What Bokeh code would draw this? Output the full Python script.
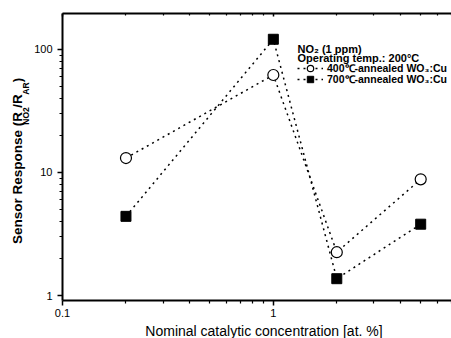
import math
from bokeh.plotting import figure
from bokeh.layouts import row, column
from bokeh.models import (ColumnDataSource, LogAxis, FixedTicker, Label, Legend, LegendItem)
from bokeh.core.properties import value
from bokeh.embed import file_html
from bokeh.resources import INLINE

# ---- data ----
conc = [0.2, 1, 2, 5]
resp_400 = [13.1, 62, 2.25, 8.8]
resp_700 = [4.4, 121, 1.37, 3.8]
label_400 = "400\u2103-annealed WO\u2083:Cu"
label_700 = "700\u2103-annealed WO\u2083:Cu"
x_major = [0.1, 1]
x_minor = [0.2, 0.3, 0.4, 0.5, 0.6, 0.7, 0.8, 0.9, 2, 3, 4, 5, 6, 7]
y_major = [1, 10, 100]
y_minor = [2, 3, 4, 5, 6, 7, 8, 9, 20, 30, 40, 50, 60, 70, 80, 90]
x_title = "Nominal catalytic concentration [at. %]"

FONT = "Liberation Sans"
LEFT_W = 30
BOTTOM_H = 18
MID = 0.3465   # distance of the text middle above the baseline, in em

p = figure(width=451 - LEFT_W, height=338 - BOTTOM_H, x_axis_type="log", y_axis_type="log",
           x_range=(0.1, 7), y_range=(0.911, 196), title=None,
           min_border_left=62 - LEFT_W, min_border_right=0, min_border_top=13,
           min_border_bottom=38 - BOTTOM_H,
           toolbar_location=None, output_backend="svg")
p.xgrid.visible = False
p.ygrid.visible = False
p.outline_line_color = None

def style_axis(ax, label_size="11px"):
    ax.axis_line_color = "black"
    ax.axis_line_width = 2
    ax.major_tick_line_color = "black"
    ax.minor_tick_line_color = "black"
    ax.major_tick_line_width = 1.5
    ax.minor_tick_line_width = 1.2
    ax.major_label_text_font = FONT
    ax.major_label_text_font_size = label_size
    ax.major_label_text_color = "black"

xa = p.xaxis[0]
xa.ticker = FixedTicker(ticks=x_major, minor_ticks=x_minor)
xa.major_label_overrides = {0.1: "0.1", 1: "1"}
style_axis(xa)
xa.major_tick_out = 5
xa.major_tick_in = 0
xa.minor_tick_out = 3
xa.minor_tick_in = 0
xa.major_label_standoff = 3

ya = p.yaxis[0]
ya.ticker = FixedTicker(ticks=y_major, minor_ticks=y_minor)
ya.major_label_overrides = {1: "1", 10: "10", 100: "100"}
style_axis(ya)
ya.major_tick_out = 5
ya.major_tick_in = 0
ya.minor_tick_out = 3
ya.minor_tick_in = 0
ya.major_label_standoff = 5

top = LogAxis(ticker=FixedTicker(ticks=x_major, minor_ticks=x_minor))
style_axis(top, "0px")
top.major_tick_out = 0
top.major_tick_in = 3
top.minor_tick_out = 0
top.minor_tick_in = 2
top.major_label_text_alpha = 0
p.add_layout(top, "above")

src = ColumnDataSource(dict(x=conc, y400=resp_400, y700=resp_700))

l400 = p.line("x", "y400", source=src, line_color="black", line_width=1.5, line_dash="2 4")
l700 = p.line("x", "y700", source=src, line_color="black", line_width=1.5, line_dash="2 4")
s400 = p.scatter("x", "y400", source=src, marker="circle", size=11,
                 fill_color="white", line_color="black", line_width=1.2)
s700 = p.scatter("x", "y700", source=src, marker="square", size=10,
                 fill_color="black", line_color="black")

def make_legend(label, rends, loc):
    return Legend(items=[LegendItem(label=label, renderers=rends)], location=loc,
                  padding=0, margin=0, spacing=0, border_line_color=None,
                  background_fill_alpha=0, glyph_width=26, glyph_height=16,
                  label_height=12, label_standoff=4,
                  label_text_font=FONT, label_text_font_size="10.5px",
                  label_text_font_style="bold", label_text_color="black")

# frame bottom is at canvas y=300; rows centred at canvas y 67.5 and 78.8
p.add_layout(make_legend(label_400, [l400, s400], (235, 300 - 67.5 - 8)))
p.add_layout(make_legend(label_700, [l700, s700], (235, 300 - 78.8 - 8)))

for txt, yy in [("NO\u2082 (1 ppm)", 300 - 48.3), ("Operating temp.: 200\u00b0C", 300 - 57.7)]:
    p.add_layout(Label(x=235, y=yy, x_units="screen", y_units="screen", text=txt,
                       text_align="left", text_baseline="middle", text_font=FONT,
                       text_font_size="11px", text_font_style="bold", text_color="black"))

# ---- left strip: y-axis title with subscripts ----
lf = figure(width=LEFT_W, height=338 - BOTTOM_H, x_range=(0, LEFT_W), y_range=(BOTTOM_H, 338),
            title=None, min_border=0, x_axis_location=None, y_axis_location=None,
            toolbar_location=None, output_backend="svg")
lf.xgrid.visible = False
lf.ygrid.visible = False
lf.outline_line_color = None

BOLD_W = {" ": 278, "(": 333, ")": 333, "/": 278, "2": 556, "A": 722, "N": 722,
          "O": 778, "R": 722, "S": 667, "e": 556, "n": 611, "o": 611, "p": 611,
          "r": 389, "s": 556}

def tw(s, size):
    return sum(BOLD_W[c] for c in s) / 1000.0 * size

MAIN_BASE = 22.0   # canvas x of the main baseline
SUB_BASE = 28.5    # canvas x of the subscript baseline
pieces = [("Sensor Response (R", 13.5, MAIN_BASE, 1), ("NO2", 8.5, SUB_BASE, 1.5),
          ("/R", 13.5, MAIN_BASE, 1), ("AR", 8.5, SUB_BASE, 1.5), (")", 13.5, MAIN_BASE, 0)]
pos = 338 - 257.0   # canvas y of the first letter, measured upward
for txt, size, base, gap in pieces:
    lf.text(x=[base - MID * size], y=[pos], text=[txt], angle=math.pi / 2,
            text_align="left", text_baseline="middle", text_font=value(FONT),
            text_font_size=f"{size}px", text_font_style="bold", text_color="black")
    pos += tw(txt, size) + gap

# ---- bottom strip: x-axis title ----
bf = figure(width=451, height=BOTTOM_H, x_range=(0, 451), y_range=(320, 338),
            title=None, min_border=0, x_axis_location=None, y_axis_location=None,
            toolbar_location=None, output_backend="svg")
bf.xgrid.visible = False
bf.ygrid.visible = False
bf.outline_line_color = None
# baseline at canvas y=335; y data here is measured as 658 - canvas y
bf.text(x=[263.5], y=[658 - (335 - MID * 14)], text=[x_title],
        text_align="center", text_baseline="middle", text_font=value(FONT),
        text_font_size="14px", text_color="black")

layout = column(row(lf, p, spacing=0), bf, spacing=0)
open("out.html", "w").write(file_html(layout, INLINE))
